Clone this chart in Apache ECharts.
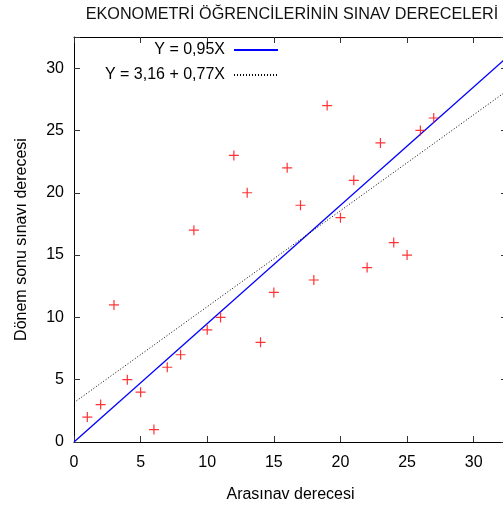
<!DOCTYPE html>
<html>
<head>
<meta charset="utf-8">
<script src="https://cdn.jsdelivr.net/npm/echarts@6/dist/echarts.min.js"></script>
<style>
  html, body { margin: 0; padding: 0; background: #fff; }
  #chart { width: 503px; height: 513px; }
</style>
</head>
<body>
<div id="chart"></div>
<script>
// Arasınav (x) ve dönem sonu (y) dereceleri
const araSinav = [1, 2, 3, 4, 5, 6, 7, 8, 9, 10, 11, 12, 13, 14, 15, 16, 17, 18, 19, 20, 21, 22, 23, 24, 25, 26, 27]
const donemSonu = [2, 3, 11, 5, 4, 1, 6, 7, 17, 9, 10, 23, 20, 8, 12, 22, 19, 13, 27, 18, 21, 14, 24, 16, 15, 25, 26]

// regresyon doğruları: sabit + eğim
const line1 = { name: 'Y = 0,95X', a: 0, b: 0.95 }
const line2 = { name: 'Y = 3,16 + 0,77X', a: 3.16, b: 0.77 }
const lineX = [0, 32.5]

const xTicks = [0, 5, 10, 15, 20, 25, 30]
const yTicks = [0, 5, 10, 15, 20, 25, 30]

const FONT = 'Liberation Sans, Arial, sans-serif'
const plus = 'path://M4.4,0h1.2v10h-1.2zM0,4.4h10v1.2h-10z'

const chart = echarts.init(document.getElementById('chart'))

const tickFmt = ticks => v => (ticks.includes(v) ? String(v) : '')

const baseAxis = {
  min: 0,
  max: 32.5,
  interval: 5,
  splitLine: { show: false },
  axisLine: { show: true, onZero: false, lineStyle: { color: '#000', width: 1 } },
  axisTick: { show: true, inside: true, length: 6, lineStyle: { color: '#333' } }
}

const legendBase = {
  align: 'right',
  right: 224,
  padding: 0,
  itemWidth: 44,
  itemHeight: 14,
  itemStyle: { opacity: 0 }, // sadece çizgi, sembol yok
  textStyle: { fontFamily: FONT, fontSize: 16, color: '#000', padding: [0, 4, 0, 0] }
}

const option = {
  animation: false,
  title: {
    text: 'EKONOMETRİ ÖĞRENCİLERİNİN SINAV DERECELERİ',
    left: 287,
    top: 2,
    textAlign: 'center',
    textStyle: { fontFamily: FONT, fontSize: 16.2, fontWeight: 'normal', color: '#111' }
  },
  legend: [
    { ...legendBase, data: [line1.name], top: 42 },
    { ...legendBase, data: [line2.name], top: 67 }
  ],
  grid: { left: 74, right: -4, top: 37, bottom: 71, outerBoundsMode: 'none', containLabel: false },
  xAxis: [
    {
      ...baseAxis,
      type: 'value',
      position: 'bottom',
      name: 'Arasınav derecesi',
      nameLocation: 'middle',
      nameGap: 45,
      nameTextStyle: { fontFamily: FONT, fontSize: 16, color: '#000' },
      axisLabel: { fontFamily: FONT, fontSize: 16, color: '#000', margin: 13, formatter: tickFmt(xTicks) }
    },
    {
      ...baseAxis,
      type: 'value',
      position: 'top',
      axisLabel: { show: false }
    }
  ],
  yAxis: [
    {
      ...baseAxis,
      type: 'value',
      position: 'left',
      name: 'Dönem sonu sınavı derecesi',
      nameLocation: 'middle',
      nameGap: 44,
      nameTextStyle: { fontFamily: FONT, fontSize: 16, color: '#000' },
      axisLabel: { fontFamily: FONT, fontSize: 16, color: '#000', margin: 10, formatter: tickFmt(yTicks) }
    },
    {
      ...baseAxis,
      type: 'value',
      position: 'right',
      axisLabel: { show: false }
    }
  ],
  series: [
    {
      name: 'Veri',
      type: 'scatter',
      symbol: plus,
      symbolSize: 10,
      itemStyle: { color: '#ff0000' },
      data: araSinav.map((x, i) => [x, donemSonu[i]]),
      z: 3
    },
    {
      name: line1.name,
      type: 'line',
      symbol: 'none',
      clip: true,
      itemStyle: { color: '#0000ff' },
      lineStyle: { color: '#0000ff', width: 1.3 },
      data: lineX.map(x => [x, line1.a + line1.b * x])
    },
    {
      name: line2.name,
      type: 'line',
      symbol: 'none',
      clip: true,
      itemStyle: { color: '#000' },
      lineStyle: { color: '#000', width: 1, type: [1, 2] },
      data: lineX.map(x => [x, line2.a + line2.b * x])
    }
  ]
}

chart.setOption(option)
</script>
</body>
</html>
